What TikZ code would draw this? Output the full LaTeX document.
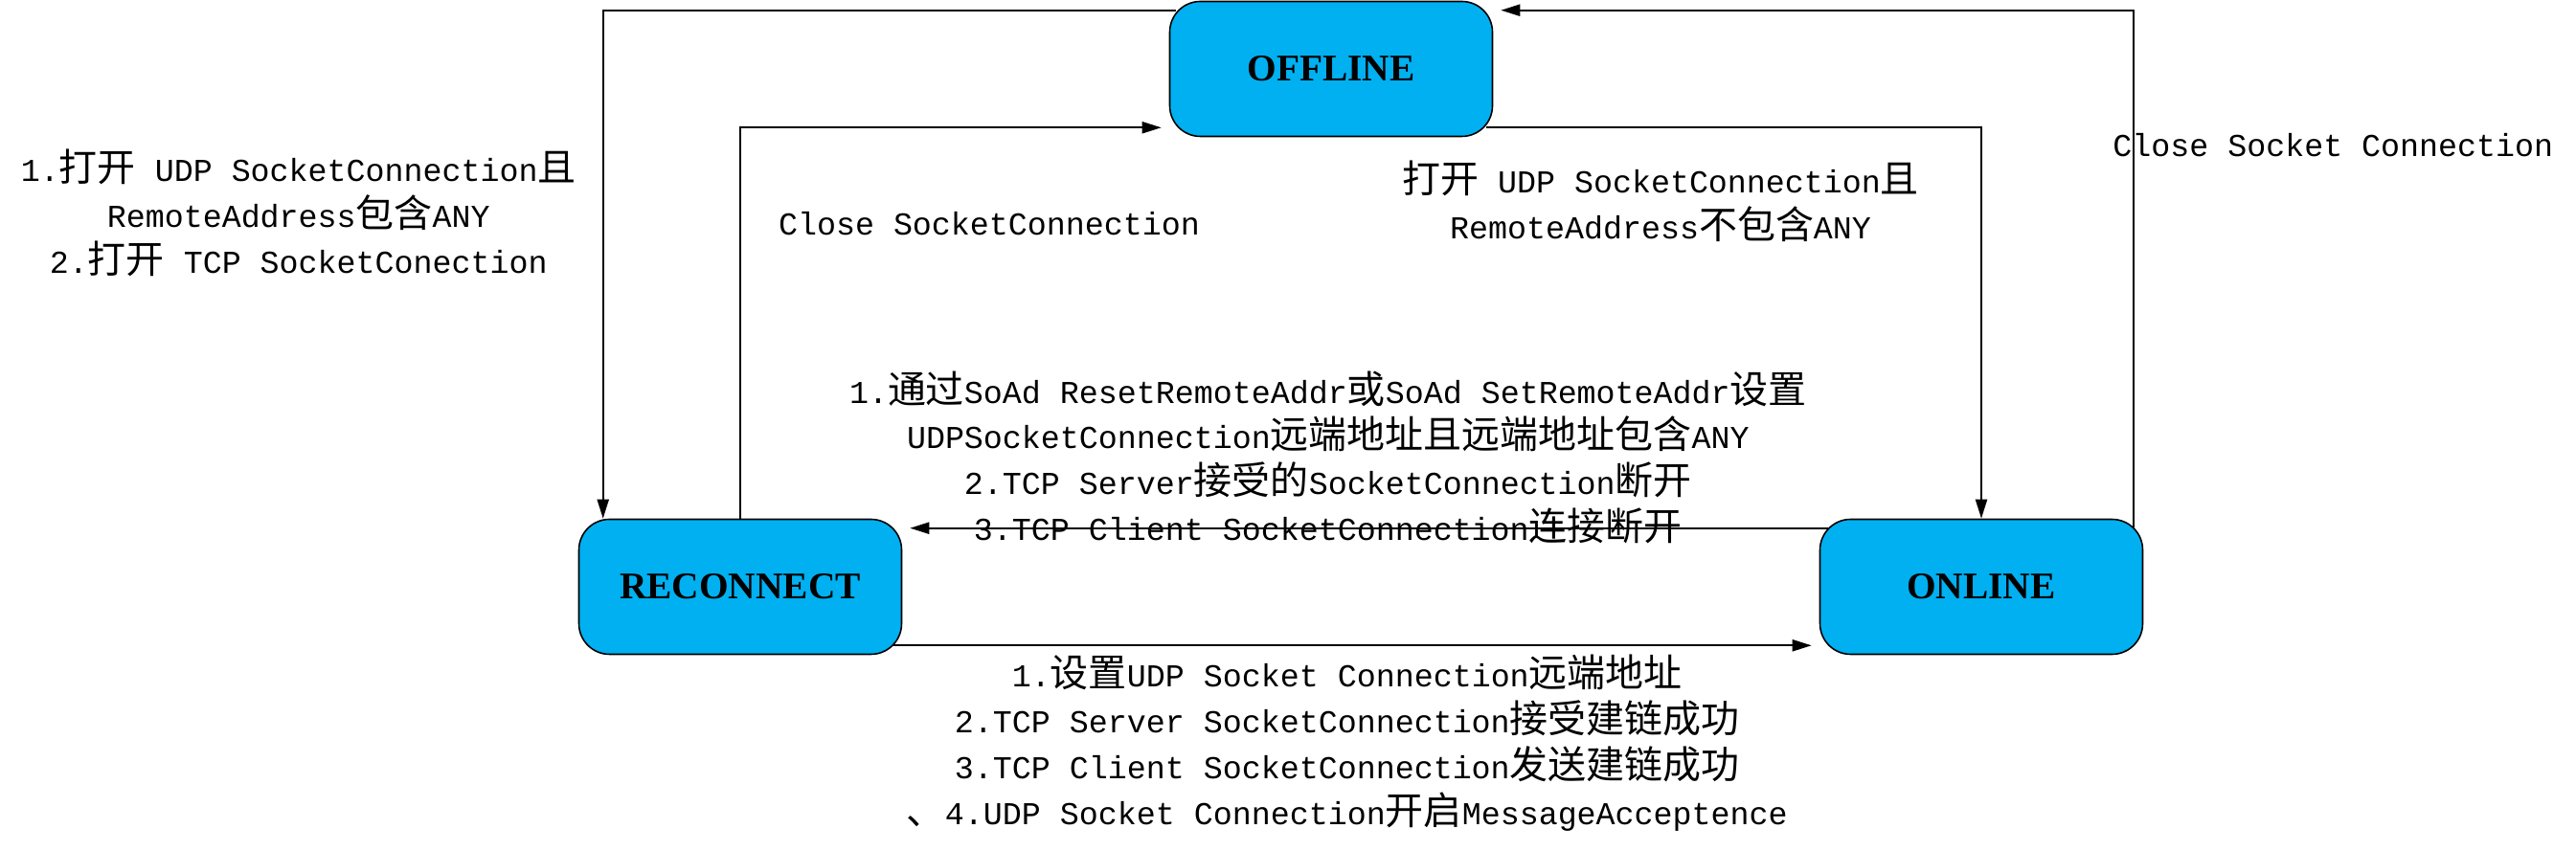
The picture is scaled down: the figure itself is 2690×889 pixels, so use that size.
\documentclass[tikz,border=0pt]{standalone}
\usepackage{fontspec}
\setmainfont{Liberation Mono}
\newfontfamily\zhfont{Noto Sans CJK SC}[Scale=1.2]
\newfontfamily\statefont{Liberation Serif}
\usepackage{tikz}
\usetikzlibrary{arrows.meta,positioning}
\definecolor{statefill}{HTML}{00B0F0}
\newcommand{\zh}[1]{{\zhfont #1}}

\begin{document}
\begin{tikzpicture}[x=0.1mm,y=-0.1mm,
  state/.style={draw=black,fill=statefill,rounded corners=3.2mm,line width=0.45pt,
                minimum width=33.7mm,minimum height=14.1mm,
                font=\statefont\bfseries\fontsize{11.2}{13}\selectfont},
  arr/.style={-{Triangle[length=2mm,width=1.2mm]},line width=0.6pt},
  lbl/.style={font=\fontsize{9.48}{13.6}\selectfont,align=center,inner sep=0pt}
]
\useasboundingbox (0,0) rectangle (2690,889);
\node[state] (offline) at (1390,72) {OFFLINE};
\node[state] (reconnect) at (773,613) {RECONNECT};
\node[state] (online) at (2069,613) {ONLINE};
% offline <-> reconnect
\draw[arr] ([xshift=0.7mm,yshift=-1mm]offline.north west) -| node[lbl,pos=0.704,left,xshift=-2.7mm,yshift=0.5mm]
  {1.\zh{打开} UDP SocketConnection\zh{且}\\RemoteAddress\zh{包含}ANY\\2.\zh{打开} TCP SocketConection}
  ([xshift=2.6mm]reconnect.north west);
\draw[arr,shorten >=0.8mm] (reconnect.north) |- node[lbl,pos=0.373,right,xshift=3.9mm,yshift=0.3mm]
  {Close SocketConnection} ([yshift=1mm]offline.south west);
% offline <-> online
\draw[arr] ([xshift=-0.7mm,yshift=1mm]offline.south east) -| node[lbl,pos=0.6,left,xshift=-6.4mm,yshift=0.5mm]
  {\zh{打开} UDP SocketConnection\zh{且}\\RemoteAddress\zh{不包含}ANY} (online.north);
\draw[arr,shorten >=0.8mm] ([xshift=-1mm,yshift=-0.9mm]online.north east) |- node[lbl,pos=0.3665,right,xshift=-2.3mm,yshift=0.3mm]
  {Close Socket Connection} ([yshift=-1mm]offline.north east);
% online <-> reconnect
\draw[arr,shorten >=0.8mm] ([xshift=0.9mm,yshift=-1mm]online.north west) -- node[lbl,pos=0.54,yshift=7.4mm]
  {1.\zh{通过}SoAd ResetRemoteAddr\zh{或}SoAd SetRemoteAddr\zh{设置}\\UDPSocketConnection\zh{远端地址且远端地址包含}ANY\\2.TCP Server\zh{接受的}SocketConnection\zh{断开}\\3.TCP Client SocketConnection\zh{连接断开}}
  ([yshift=-1mm]reconnect.north east);
\draw[arr,shorten >=0.8mm] ([xshift=-0.9mm,yshift=1mm]reconnect.south east) -- node[lbl,pos=0.49,yshift=-10.2mm]
  {1.\zh{设置}UDP Socket Connection\zh{远端地址}\\2.TCP Server SocketConnection\zh{接受建链成功}\\3.TCP Client SocketConnection\zh{发送建链成功}\\\zh{、}4.UDP Socket Connection\zh{开启}MessageAcceptence}
  ([yshift=1mm]online.south west);
\end{tikzpicture}
\end{document}
